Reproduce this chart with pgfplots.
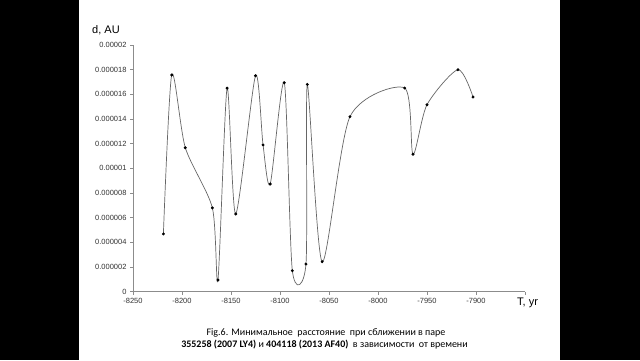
\documentclass[border=0pt]{standalone}
\usepackage{pgfplots}
\pgfplotsset{compat=1.18}
\usepackage{fontspec}
\setmainfont{Liberation Sans}
\newfontfamily\calibri{Carlito}
\begin{document}
\begin{tikzpicture}[x=1pt,y=1pt]
\fill[black] (0,0) rectangle (640,360);
\fill[white] (79,0) rectangle (560,360);
\begin{axis}[
  at={(133pt,68.3pt)}, anchor=south west,
  scale only axis, width=392pt, height=246.7pt,
  xmin=-8250, xmax=-7850, ymin=0, ymax=0.00002,
  axis x line=bottom, axis y line=left,
  axis line style={-, draw=black!45, line width=0.8pt},
  tick style={draw=black!45, line width=0.8pt},
  tick align=outside, major tick length=3pt,
  xtick={-8250,-8200,-8150,-8100,-8050,-8000,-7950,-7900,-7850},
  xticklabels={-8250,-8200,-8150,-8100,-8050,-8000,-7950,-7900,{}},
  ytick={0,0.000002,0.000004,0.000006,0.000008,0.00001,0.000012,0.000014,0.000016,0.000018,0.00002},
  yticklabels={0,0.000002,0.000004,0.000006,0.000008,0.00001,0.000012,0.000014,0.000016,0.000018,0.00002},
  scaled y ticks=false, scaled x ticks=false,
  ticklabel style={font=\fontsize{7.5}{9}\selectfont, text=black!80},
  clip=false,
]
\addplot[smooth, tension=0.45, draw=black!60, line width=0.7pt,
  mark=*, mark size=1.1pt, mark options={fill=black, draw=black}]
coordinates {
(-8219,0.00000468)
(-8210.5,0.00001757)
(-8196.6,0.00001167)
(-8169,0.00000679)
(-8163.3,0.00000095)
(-8154,0.0000165)
(-8145.2,0.0000063)
(-8125,0.0000175)
(-8117.3,0.0000119)
(-8110,0.00000873)
(-8095.6,0.00001694)
(-8087.4,0.0000017)
(-8073.5,0.00000224)
(-8072.1,0.0000168)
(-8057,0.00000243)
(-8028.6,0.00001419)
(-7972.8,0.00001651)
(-7964.3,0.00001114)
(-7950,0.00001516)
(-7918.4,0.000018)
(-7903,0.00001578)
};
\end{axis}
\node[anchor=west, font=\fontsize{11}{13}\selectfont, inner sep=0pt] at (92,329.3) {d, AU};
\node[anchor=west, font=\fontsize{11}{13}\selectfont, inner sep=0pt] at (517,56.7) {T, yr};
\node[font=\calibri\fontsize{10}{12}\selectfont, inner sep=0pt] at (326,27.3) {Fig.6. Минимальное\ \ расстояние\ \ при сближении в паре};
\node[font=\calibri\fontsize{10}{12}\selectfont, inner sep=0pt] at (324.5,15.7) {\textbf{355258 (2007 LY4)} и \textbf{404118 (2013 AF40)}\ \ в зависимости\ \ от времени};
\pgfresetboundingbox
\useasboundingbox (0,0) rectangle (640,360);
\end{tikzpicture}
\end{document}
